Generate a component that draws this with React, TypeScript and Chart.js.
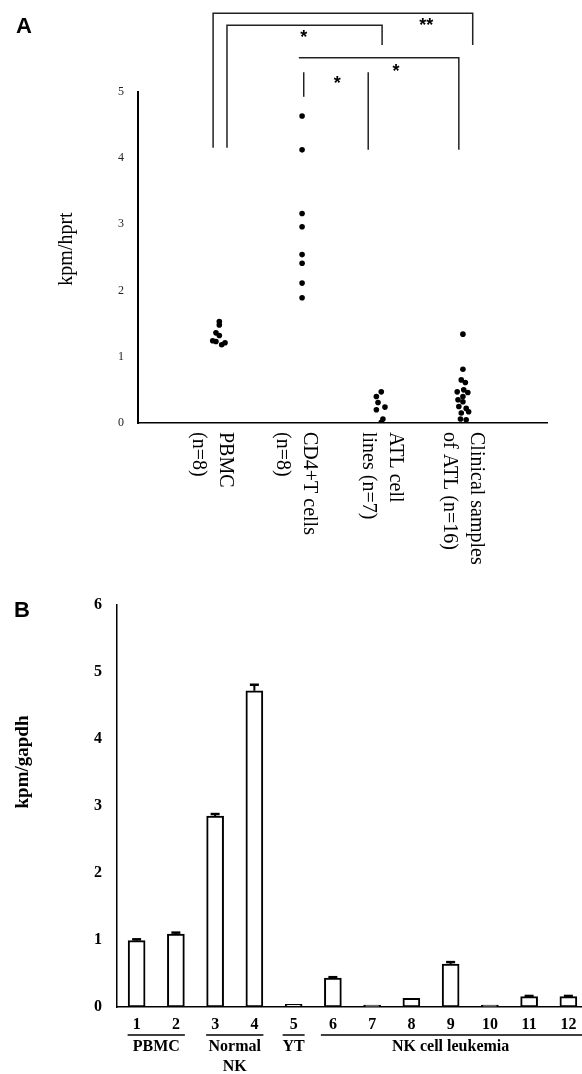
import React, { useEffect, useRef } from "react";
import { Chart, registerables } from "chart.js";

Chart.register(...registerables);

// ---------- Panel A data ----------
const groupLabelsA = [
  ["PBMC", "(n=8)"],
  ["CD4+T cells", "(n=8)"],
  ["ATL cell", "lines (n=7)"],
  ["Clinical samples", "of ATL (n=16)"],
];
const groupPositionsA = [1, 2.03, 3, 4];
const yTicksA = [0, 1, 2, 3, 4, 5];

const pbmcValues = [1.53, 1.48, 1.36, 1.32, 1.24, 1.23, 1.21, 1.18];
const pbmcJitter = [0.016, 0.016, -0.025, 0.016, -0.065, -0.025, 0.086, 0.045];

const cd4Values = [4.63, 4.12, 3.16, 2.96, 2.54, 2.41, 2.11, 1.89];
const cd4Jitter = [0, 0, 0, 0, 0, 0, 0, 0];

const atlLineValues = [0.47, 0.4, 0.31, 0.24, 0.2, 0.06, 0.01];
const atlLineJitter = [0, -0.06, -0.04, 0.045, -0.06, 0.02, 0.0];

const clinicalValues = [1.34, 0.81, 0.65, 0.61, 0.5, 0.47, 0.46, 0.4, 0.35, 0.32, 0.25, 0.22, 0.17, 0.15, 0.06, 0.05];
const clinicalJitter = [0, 0, -0.02, 0.03, 0.01, -0.07, 0.06, 0, -0.06, 0, -0.05, 0.04, 0.07, -0.02, -0.03, 0.04];

// ---------- Panel B data ----------
const barLabels = ["1", "2", "3", "4", "5", "6", "7", "8", "9", "10", "11", "12"];
const barValues = [0.99, 1.09, 2.85, 4.72, 0.04, 0.43, 0.02, 0.13, 0.64, 0.01, 0.155, 0.155];
const barErrors = [0.02, 0.02, 0.03, 0.09, 0, 0.015, 0, 0, 0.03, 0, 0.01, 0.01];
const barGroupNames = [["PBMC"], ["Normal", "NK"], ["YT"], ["NK cell leukemia"]];
const barGroupFrom = [0, 2, 4, 5];
const barGroupTo = [1, 3, 4, 11];
const yTicksB = [0, 1, 2, 3, 4, 5, 6];

const SERIF = '"Liberation Serif", "Times New Roman", serif';
const SANS = '"Liberation Sans", Arial, sans-serif';

const toPoints = (pos: number, vals: number[], jit: number[]) =>
  vals.map((v, i) => ({ x: pos + jit[i], y: v }));

const panelAPlugin = {
  id: "panelA",
  afterDraw(chart: any) {
    const ctx = chart.ctx;
    const xs = chart.scales.x;
    const ys = chart.scales.y;
    const X = (v: number) => xs.getPixelForValue(v);
    const Y = (v: number) => ys.getPixelForValue(v);
    ctx.save();
    ctx.fillStyle = "#000";
    ctx.font = `bold 22px ${SANS}`;
    ctx.textAlign = "center";
    ctx.textBaseline = "middle";
    ctx.fillText("A", 24, 27);

    ctx.save();
    ctx.translate(67, 249);
    ctx.rotate(-Math.PI / 2);
    ctx.font = `20px ${SERIF}`;
    ctx.fillText("kpm/hprt", 0, 0);
    ctx.restore();

    ctx.strokeStyle = "#222";
    ctx.lineWidth = 1.5;
    const seg = (pts: number[][]) => {
      ctx.beginPath();
      pts.forEach(([x, y], i) => (i ? ctx.lineTo(X(x), Y(y)) : ctx.moveTo(X(x), Y(y))));
      ctx.stroke();
    };
    seg([[0.94, 4.15], [0.94, 6.18], [4.12, 6.18], [4.12, 5.7]]);
    seg([[1.11, 4.15], [1.11, 6.0], [3.01, 6.0], [3.01, 5.7]]);
    seg([[1.99, 5.51], [3.95, 5.51], [3.95, 4.12]]);
    seg([[2.05, 5.29], [2.05, 4.92]]);
    seg([[2.84, 5.29], [2.84, 4.12]]);

    ctx.font = `bold 18px ${SANS}`;
    ctx.textBaseline = "alphabetic";
    const star = (t: string, x: number, y: number) => ctx.fillText(t, X(x), Y(y) + 10);
    star("**", 3.55, 6.06);
    star("*", 2.05, 5.88);
    star("*", 3.18, 5.37);
    star("*", 2.46, 5.19);

    const shifts = [-6, -6, 0, 0];
    ctx.font = `20px ${SERIF}`;
    ctx.textAlign = "left";
    ctx.textBaseline = "middle";
    groupLabelsA.forEach((lines, i) => {
      const cx = X(groupPositionsA[i]) + shifts[i];
      ctx.save();
      ctx.translate(cx, 432);
      ctx.rotate(Math.PI / 2);
      lines.forEach((t, j) => ctx.fillText(t, 0, (j - 0.5) * 27));
      ctx.restore();
    });
    ctx.restore();
  },
};

const panelBPlugin = {
  id: "panelB",
  afterDatasetsDraw(chart: any) {
    const ctx = chart.ctx;
    const ys = chart.scales.y;
    const meta = chart.getDatasetMeta(0);
    ctx.save();
    ctx.strokeStyle = "#000";
    meta.data.forEach((el: any, i: number) => {
      const e = barErrors[i];
      if (!e) return;
      const yTop = ys.getPixelForValue(barValues[i] + e);
      ctx.lineWidth = 2;
      ctx.beginPath();
      ctx.moveTo(el.x, el.y);
      ctx.lineTo(el.x, yTop);
      ctx.stroke();
      ctx.lineWidth = 2.5;
      ctx.beginPath();
      ctx.moveTo(el.x - 4.5, yTop);
      ctx.lineTo(el.x + 4.5, yTop);
      ctx.stroke();
    });
    ctx.restore();
  },
  afterDraw(chart: any) {
    const ctx = chart.ctx;
    const xs = chart.scales.x;
    ctx.save();
    ctx.fillStyle = "#000";
    ctx.font = `bold 22px ${SANS}`;
    ctx.textAlign = "center";
    ctx.textBaseline = "middle";
    ctx.fillText("B", 22, 31);

    ctx.save();
    ctx.translate(23, 182);
    ctx.rotate(-Math.PI / 2);
    ctx.font = `bold 19px ${SERIF}`;
    ctx.fillText("kpm/gapdh", 0, 0);
    ctx.restore();

    ctx.strokeStyle = "#000";
    ctx.lineWidth = 1.5;
    ctx.font = `bold 16px ${SERIF}`;
    barGroupNames.forEach((lines, g) => {
      const a = xs.getPixelForValue(barGroupFrom[g]);
      const b = xs.getPixelForValue(barGroupTo[g]);
      const single = barGroupFrom[g] === barGroupTo[g];
      const pad = single ? 11 : 9;
      const left = a - (g === 3 ? 12 : pad);
      const right = g === 3 ? chart.width : b + pad;
      ctx.beginPath();
      ctx.moveTo(left, 455);
      ctx.lineTo(right, 455);
      ctx.stroke();
      const cx = (a + b) / 2;
      lines.forEach((t, j) => ctx.fillText(t, cx, 467 + j * 20));
    });
    ctx.restore();
  },
};

export default function App() {
  const refA = useRef<HTMLCanvasElement>(null);
  const refB = useRef<HTMLCanvasElement>(null);

  useEffect(() => {
    const chartA = new Chart(refA.current as HTMLCanvasElement, {
      type: "scatter",
      data: {
        datasets: [
          { data: toPoints(groupPositionsA[0], pbmcValues, pbmcJitter) },
          { data: toPoints(groupPositionsA[1], cd4Values, cd4Jitter) },
          { data: toPoints(groupPositionsA[2], atlLineValues, atlLineJitter) },
          { data: toPoints(groupPositionsA[3], clinicalValues, clinicalJitter) },
        ].map((d) => ({
          ...d,
          pointRadius: 2.8,
          pointBackgroundColor: "#000",
          pointBorderWidth: 0,
          showLine: false,
        })),
      },
      options: {
        responsive: false,
        animation: false,
        events: [],
        layout: { padding: { left: 108, right: 35, top: 91.5, bottom: 157 } },
        plugins: { legend: { display: false }, tooltip: { enabled: false } },
        scales: {
          x: {
            type: "linear",
            min: 0.02,
            max: 5.03,
            grid: { display: false, drawTicks: false },
            ticks: { display: false },
            border: { display: true, color: "#000", width: 1.5 },
            afterFit: (s: any) => { s.height = 0; },
          },
          y: {
            min: 0,
            max: 5,
            afterBuildTicks: (s: any) => { s.ticks = yTicksA.map((v) => ({ value: v })); },
            ticks: { color: "#222", padding: 14, font: { family: SERIF, size: 12 } },
            grid: { display: false, drawTicks: false },
            border: { display: true, color: "#000", width: 2 },
            afterFit: (s: any) => { s.width = 30; },
          },
        },
      },
      plugins: [panelAPlugin],
    } as any);

    const chartB = new Chart(refB.current as HTMLCanvasElement, {
      type: "bar",
      data: {
        labels: barLabels,
        datasets: [
          {
            data: barValues,
            backgroundColor: "#fff",
            borderColor: "#000",
            borderWidth: 2,
            borderSkipped: false,
            minBarLength: 2,
            barThickness: 17,
          },
        ],
      },
      options: {
        responsive: false,
        animation: false,
        events: [],
        layout: { padding: { left: 77, right: 12, top: 25, bottom: 37 } },
        plugins: { legend: { display: false }, tooltip: { enabled: false } },
        scales: {
          x: {
            grid: { display: false, drawTicks: false },
            border: { display: true, color: "#000", width: 1.5 },
            ticks: {
              color: "#000",
              padding: 8,
              maxRotation: 0,
              autoSkip: false,
              font: { family: SERIF, size: 16, weight: "bold" },
            },
            afterFit: (s: any) => { s.height = 30; },
          },
          y: {
            min: 0,
            max: 6,
            afterBuildTicks: (s: any) => { s.ticks = yTicksB.map((v) => ({ value: v })); },
            ticks: { color: "#000", padding: 15, font: { family: SERIF, size: 16, weight: "bold" } },
            grid: { display: false, drawTicks: false },
            border: { display: true, color: "#000", width: 1.5 },
            afterFit: (s: any) => { s.width = 40; },
          },
        },
      },
      plugins: [panelBPlugin],
    } as any);

    return () => {
      chartA.destroy();
      chartB.destroy();
    };
  }, []);

  return (
    <div
      style={{
        position: "absolute",
        left: 0,
        top: 0,
        width: 582,
        height: 1074,
        overflow: "hidden",
        background: "#fff",
      }}
    >
      <canvas
        ref={refA}
        width={582}
        height={580}
        style={{ position: "absolute", left: 0, top: 0, width: 582, height: 580 }}
      />
      <canvas
        ref={refB}
        width={600}
        height={494}
        style={{ position: "absolute", left: 0, top: 580, width: 600, height: 494 }}
      />
    </div>
  );
}
